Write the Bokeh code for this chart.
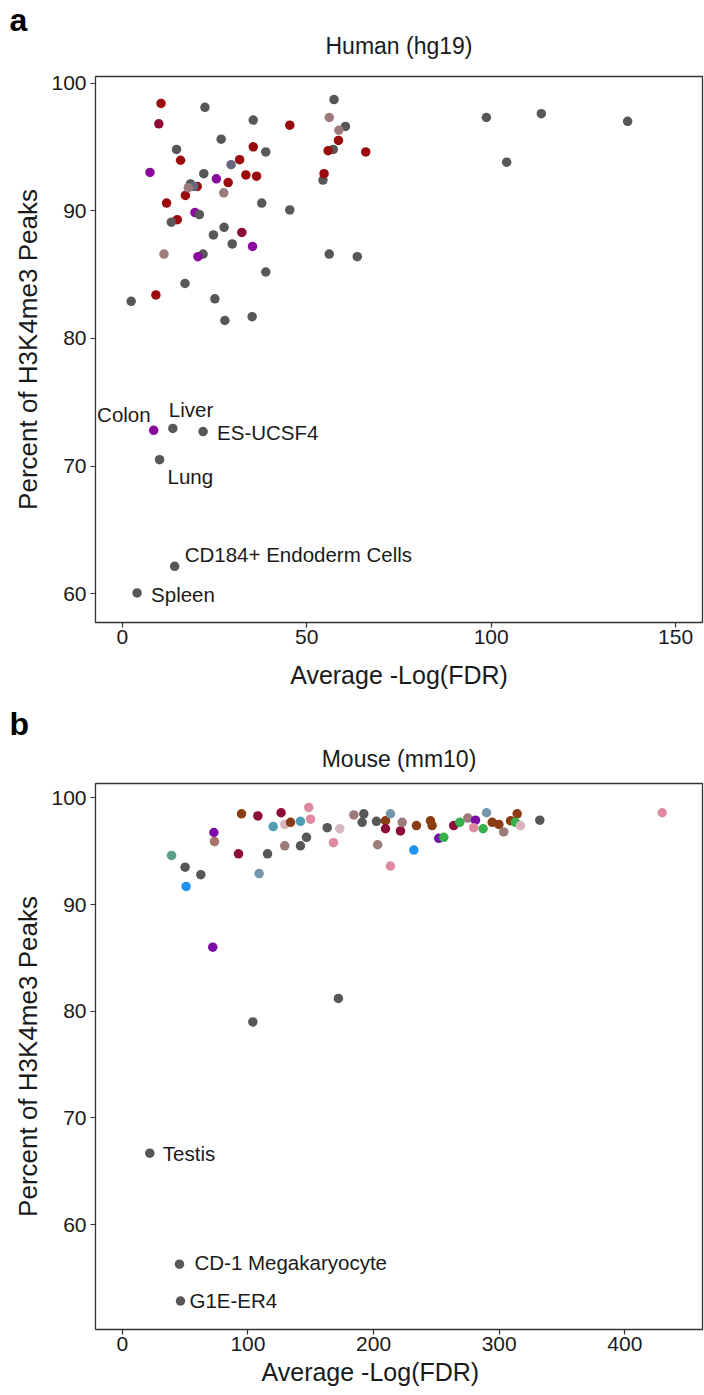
from bokeh.plotting import figure
from bokeh.models import Range1d, FixedTicker, LabelSet, ColumnDataSource, Title
from bokeh.layouts import column
from bokeh.core.properties import value
from bokeh.embed import file_html
from bokeh.resources import INLINE

# ---------------- data: Human (hg19) ----------------
human_x = [10.5, 22.4, 57.4, 56.1, 9.9, 35.5, 45.4, 60.5, 58.7, 26.8, 58.6, 35.5, 38.9, 14.7,
           57.2, 55.8, 66.0, 15.8, 31.8, 29.5, 7.5, 22.1, 33.5, 36.4, 54.4, 54.7, 25.5, 28.7,
           17.1, 20.3, 18.5, 19.4, 17.9, 27.5, 12.0, 37.8, 45.4, 19.7, 20.9, 14.9, 13.3, 32.4,
           27.6, 24.7, 29.8, 35.3, 11.3, 21.9, 20.5, 56.1, 63.7, 38.9, 17.0, 2.4, 9.1, 25.1,
           27.8, 35.2, 98.7, 113.6, 137.0, 104.2]
human_y = [98.4, 98.1, 98.7, 97.3, 96.8, 97.1, 96.7, 96.6, 96.3, 95.6, 95.5, 95.0, 94.6, 94.8,
           94.8, 94.7, 94.6, 93.95, 94.0, 93.6, 93.0, 92.9, 92.8, 92.7, 92.4, 92.9, 92.5, 92.2,
           91.2, 91.9, 92.1, 91.9, 91.8, 91.4, 90.6, 90.6, 90.06, 89.85, 89.7, 89.3, 89.1, 88.3,
           88.7, 88.1, 87.4, 87.2, 86.6, 86.6, 86.4, 86.6, 86.4, 85.2, 84.3, 82.9, 83.4, 83.1,
           81.4, 81.7, 97.3, 97.6, 97.0, 93.8]
human_group = ["R", "G", "G", "RG", "C", "G", "R", "G", "RG", "G", "R", "R", "G", "G",
               "G", "R", "R", "R", "R", "S", "P", "G", "R", "R", "G", "R", "P", "R",
               "R", "R", "G", "S", "RG", "RG", "R", "G", "G", "P", "G", "R", "G", "C",
               "G", "G", "G", "P", "RG", "G", "P", "G", "G", "G", "G", "G", "R", "G",
               "G", "G", "G", "G", "G", "G"]
human_named = ["Colon", "Liver", "ES-UCSF4", "Lung", "CD184+ Endoderm Cells", "Spleen"]
human_named_x = [8.5, 13.7, 21.9, 10.1, 14.2, 4.0]
human_named_y = [72.8, 72.95, 72.7, 70.5, 62.15, 60.07]
human_named_group = ["P", "G", "G", "G", "G", "G"]

# ---------------- data: Mouse (mm10) ----------------
mouse_x = [39.2, 50.0, 62.5, 50.8, 72.9, 73.4, 72.0, 94.9, 107.9, 92.5, 115.6, 108.9, 126.4,
           120.1, 129.3, 133.9, 141.8, 148.4, 149.8, 129.3, 141.8, 146.6, 163.1, 173.1, 168.1,
           184.3, 192.2, 190.9, 202.3, 209.5, 209.5, 213.4, 203.3, 213.4, 221.4, 222.8, 234.1,
           245.3, 246.6, 232.0, 251.9, 255.9, 263.8, 268.6, 275.0, 281.1, 279.7, 287.2, 289.9,
           294.4, 299.7, 303.6, 309.0, 314.3, 312.9, 316.9, 332.3, 429.7, 103.9, 172.0]
mouse_y = [94.6, 93.5, 92.8, 91.7, 96.75, 95.9, 86.0, 98.5, 98.3, 94.75, 94.75, 92.9, 98.6,
           97.3, 97.5, 97.7, 97.8, 99.1, 98.0, 95.5, 95.5, 96.3, 97.2, 97.1, 95.8,
           98.4, 98.5, 97.7, 97.8, 97.85, 97.1, 98.5, 95.6, 93.6, 96.9, 97.7, 97.4,
           97.85, 97.4, 95.1, 96.2, 96.3, 97.4, 97.7, 98.1, 97.9, 97.2, 97.1, 98.6,
           97.7, 97.5, 96.8, 97.85, 98.5, 97.7, 97.4, 97.9, 98.6, 79.0, 81.2]
mouse_group = ["TG", "G", "G", "BL", "PU", "RB", "PU", "B", "C", "C", "G", "SL", "C",
               "T", "LP", "B", "T", "PK", "PK", "RG", "G", "G", "G", "LP", "PK",
               "RG", "G", "G", "G", "B", "C", "SL", "RG", "PK", "C", "RG", "B",
               "B", "B", "BL", "PU", "GR", "C", "GR", "RG", "PU", "PK", "GR", "SL",
               "B", "B", "RG", "B", "B", "GR", "LP", "G", "PK", "G", "G"]
mouse_named = ["Testis", "CD-1 Megakaryocyte", "G1E-ER4"]
mouse_named_x = [21.9, 45.5, 46.3]
mouse_named_y = [66.7, 56.3, 52.85]
mouse_named_group = ["G", "G", "G"]

x_ticks_a = [0, 50, 100, 150]
x_ticks_b = [0, 100, 200, 300, 400]
y_ticks = [60, 70, 80, 90, 100]

# ---------------- styles ----------------
palette = {
    "G": "#575757", "R": "#9c0b0b", "C": "#8e0b3a", "P": "#8a0a9e", "RG": "#9c7b7b",
    "S": "#66667e", "B": "#8a3c12", "PK": "#e08aa2", "LP": "#d6b5bf", "T": "#4e9eb4",
    "TG": "#5a9e8c", "SL": "#7595a8", "BL": "#2291f0", "PU": "#7a0fa8", "GR": "#35b04a",
    "RB": "#a87468",
}
FONT = "Liberation Sans"
INK = "#1a1a1a"


def make_fig(h, xr, yr, xticks, mbt, mbb, xlabel):
    p = figure(width=704, height=h, x_range=Range1d(*xr), y_range=Range1d(*yr),
               output_backend="svg", toolbar_location=None,
               min_border_left=95, min_border_right=2, min_border_top=mbt,
               min_border_bottom=mbb)
    p.xgrid.visible = False
    p.ygrid.visible = False
    p.outline_line_color = "#333333"
    p.outline_line_width = 1.3
    p.background_fill_color = "white"
    p.border_fill_color = "white"
    p.xaxis.ticker = FixedTicker(ticks=xticks)
    p.yaxis.ticker = FixedTicker(ticks=y_ticks)
    for ax in (p.xaxis[0], p.yaxis[0]):
        ax.axis_line_color = None
        ax.major_tick_line_color = "#333333"
        ax.major_tick_line_width = 1.2
        ax.major_tick_out = 5
        ax.major_tick_in = 0
        ax.minor_tick_line_color = None
        ax.major_label_text_font = FONT
        ax.major_label_text_font_size = "21px"
        ax.major_label_text_color = INK
    p.xaxis.major_label_standoff = 2
    p.yaxis.major_label_standoff = 4
    p.yaxis.axis_label = "Percent of H3K4me3 Peaks"
    p.yaxis.axis_label_text_font = FONT
    p.yaxis.axis_label_text_font_size = "26px"
    p.yaxis.axis_label_text_font_style = "normal"
    p.yaxis.axis_label_text_color = INK
    p.yaxis.axis_label_standoff = 5
    if xlabel:
        p.xaxis.axis_label = "Average -Log(FDR)"
        p.xaxis.axis_label_text_font = FONT
        p.xaxis.axis_label_text_font_size = "25px"
        p.xaxis.axis_label_text_font_style = "normal"
        p.xaxis.axis_label_text_color = INK
        p.xaxis.axis_label_standoff = 14
    return p


def add_points(p, xs, ys, groups):
    src = ColumnDataSource(dict(x=xs, y=ys, color=[palette[g] for g in groups]))
    p.scatter(x="x", y="y", source=src, size=9.5, fill_color="color", line_color=None)


def add_names(p, names, xs, ys, xo, yo, align):
    src = ColumnDataSource(dict(x=xs, y=ys, name=names, xo=xo, yo=yo, align=align))
    p.add_layout(LabelSet(x="x", y="y", text="name", source=src, x_offset="xo", y_offset="yo",
                          text_align="align", text_baseline="alphabetic",
                          text_font=value(FONT), text_font_size=value("20.5px"),
                          text_color=INK))


def add_heading(p, letter, title, title_standoff, letter_standoff):
    p.add_layout(Title(text=title, align="center", standoff=title_standoff,
                       text_font=FONT, text_font_size="23px", text_font_style="normal",
                       text_color=INK), "above")
    p.add_layout(Title(text=letter, align="left", offset=-86, standoff=letter_standoff,
                       text_font=FONT, text_font_size="32px", text_font_style="bold",
                       text_color="black"), "above")


# ---------------- panel a ----------------
pa = make_fig(700, (-7.27, 157.3), (57.75, 100.51), x_ticks_a, 76, 78, True)
add_points(pa, human_x, human_y, human_group)
add_points(pa, human_named_x, human_named_y, human_named_group)
add_names(pa, human_named, human_named_x, human_named_y,
          xo=[-3, -4, 14, 8, 10, 14], yo=[8, 11, -8, -24, 4, -9],
          align=["right", "left", "left", "left", "left", "left"])
add_heading(pa, "a", "Human (hg19)", 36, -50)

# ---------------- panel b ----------------
pb = make_fig(695, (-21.33, 461.8), (50.18, 101.34), x_ticks_b, 83, 66, False)
add_points(pb, mouse_x, mouse_y, mouse_group)
add_points(pb, mouse_named_x, mouse_named_y, mouse_named_group)
add_names(pb, mouse_named, mouse_named_x, mouse_named_y,
          xo=[13, 15, 9], yo=[-8, -6, -7], align=["left", "left", "left"])
add_heading(pb, "b", "Mouse (mm10)", 24, -20)
pb.add_layout(Title(text="Average -Log(FDR)", align="left", offset=166, standoff=5,
                    text_font=FONT, text_font_size="25px", text_font_style="normal",
                    text_color=INK), "below")

layout = column(pa, pb)
open("out.html", "w").write(file_html(layout, INLINE))
